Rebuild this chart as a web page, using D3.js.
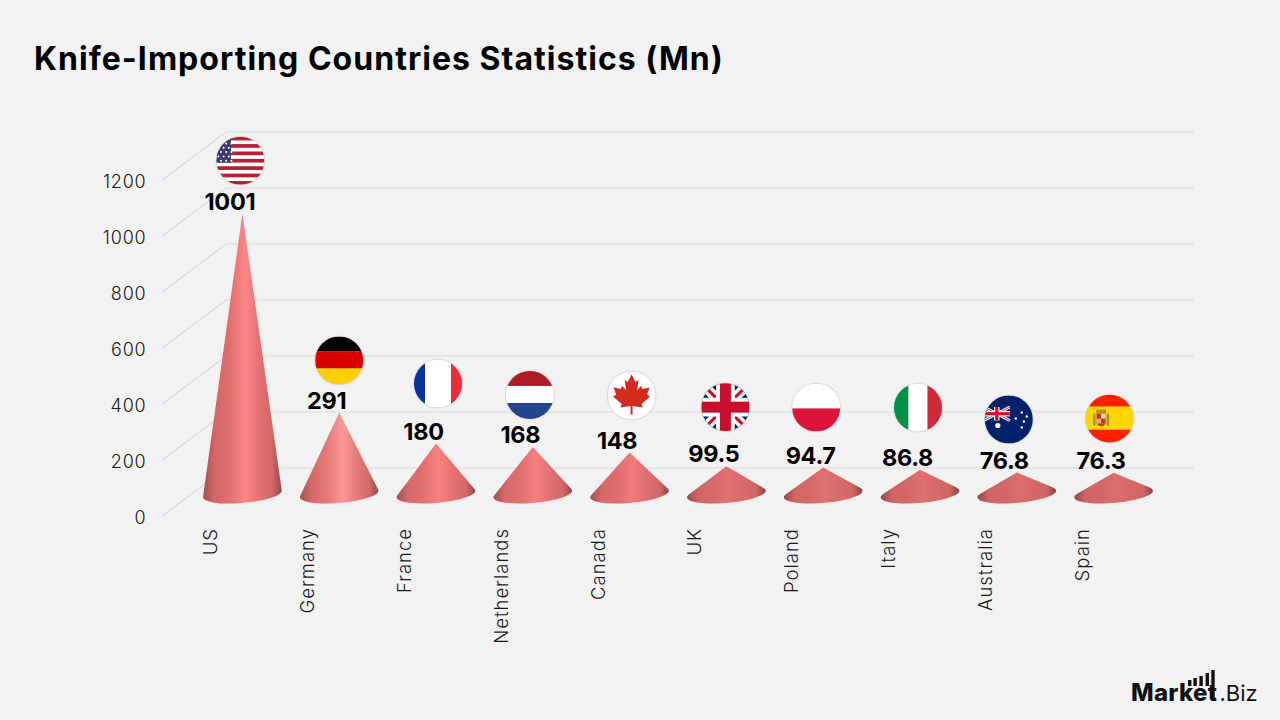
<!DOCTYPE html>
<html>
<head>
<meta charset="utf-8">
<title>Knife-Importing Countries Statistics</title>
<script src="https://cdn.jsdelivr.net/npm/d3@7/dist/d3.min.js"></script>
<style>
  html, body { margin: 0; padding: 0; background: #f2f2f2; }
  svg { display: block; font-family: Inter, "Open Sans", sans-serif; }
</style>
</head>
<body>
<div id="chart"></div>
<script>
// Chart data
const countries = ["US", "Germany", "France", "Netherlands", "Canada", "UK", "Poland", "Italy", "Australia", "Spain"];
const importValues = [1001, 291, 180, 168, 148, 99.5, 94.7, 86.8, 76.8, 76.3];
const yTicks = [0, 200, 400, 600, 800, 1000, 1200];
const chartTitle = "Knife-Importing Countries Statistics (Mn)";

// Hand-tuned placement of each flag badge relative to its cone tip
const flagLift = [53, 52, 60, 52, 57, 59, 60, 62, 53, 54];
const flagShift = [-2, 0, 2, -3, 2, -1, -7, -2, -8, -4];

const width = 1280, height = 720;
const depth = { dx: 64, dy: -48 };
const frontLeft = 162, frontRight = 1130, frontZero = 516;
const floorOffset = 22;   // cones stand halfway into the box floor

const svg = d3.select("#chart").append("svg").attr("width", width).attr("height", height);
const defs = svg.append("defs");
svg.append("rect").attr("width", width).attr("height", height).attr("fill", "#f2f2f2");

const y = d3.scaleLinear().domain([0, 1200]).range([frontZero, frontZero - 336]);
const x = d3.scaleBand().domain(countries).range([frontLeft, frontRight]);
const coneX = c => x(c) + x.bandwidth() / 2 + depth.dx / 2;
const coneY = v => y(v) - floorOffset;

svg.append("text").attr("x", 34).attr("y", 70)
  .attr("font-size", 32).attr("font-weight", 700).attr("fill", "#000")
  .attr("letter-spacing", 1.03)
  .text(chartTitle);

// Wall gridlines and the receding floor ticks
const grid = svg.append("g").attr("fill", "none").attr("stroke", "#dadada").attr("stroke-width", 1.2);
yTicks.forEach(t => {
  grid.append("path").attr("d", d3.line()([
    [frontLeft, y(t)],
    [frontLeft + depth.dx, y(t) + depth.dy],
    [frontRight + depth.dx, y(t) + depth.dy]
  ]));
});

svg.append("g").selectAll("text").data(yTicks).join("text")
  .attr("x", 146.5).attr("y", d => y(d) + 1.2).attr("dy", "0.35em")
  .attr("text-anchor", "end").attr("font-size", 18).attr("font-weight", 300)
  .attr("letter-spacing", 0.8).attr("fill", "#1a1a1a")
  .text(d => d);

svg.append("g").selectAll("text").data(countries).join("text")
  .attr("transform", d => `translate(${coneX(d) - 25},528) rotate(-90)`)
  .attr("text-anchor", "end").attr("font-size", 18.5).attr("font-weight", 300)
  .attr("letter-spacing", 1).attr("fill", "#1a1a1a")
  .text(d => d);

// Cones: a tilted elliptical base joined to the tip along its tangent lines
const baseRx = 39.5, baseRy = 9, tilt = -5 * Math.PI / 180;
const glow = d3.scaleLinear().domain([21, 50, 81, 280])
  .range(["#dc6d6d", "#fb8080", "#ff9a9a", "#ff8686"]).clamp(true);
const midTone = d3.scaleLinear().domain([21, 50, 280])
  .range(["#cf6565", "#d66969", "#d26666"]).clamp(true);
const rim = d3.scaleLinear().domain([21, 50, 280])
  .range(["#8f4848", "#a05050", "#a04f4f"]).clamp(true);

function conePath(cx, cy, tipY) {
  const cos = Math.cos(tilt), sin = Math.sin(tilt);
  const dy = tipY - cy;
  const ux = (sin * dy) / baseRx, uy = (cos * dy) / baseRy;
  const len = Math.hypot(ux, uy);
  const base = Math.atan2(uy, ux), spread = Math.acos(1 / len);
  const pt = a => {
    const ex = baseRx * Math.cos(a), ey = baseRy * Math.sin(a);
    return [cx + ex * cos - ey * sin, cy + ex * sin + ey * cos];
  };
  const right = pt(base + spread), left = pt(base - spread);
  const deg = tilt * 180 / Math.PI;
  return `M${cx},${tipY}L${right[0]},${right[1]}` +
    `A${baseRx},${baseRy} ${deg} 1 1 ${left[0]},${left[1]}Z`;
}

const cones = svg.append("g");
countries.forEach((c, i) => {
  const v = importValues[i];
  const h = coneY(0) - coneY(v);
  const id = "coneShade" + i;
  const g = defs.append("linearGradient").attr("id", id).attr("x1", 0).attr("x2", 1).attr("y1", 0).attr("y2", 0);
  const near = d3.interpolateRgb(midTone(h), glow(h))(0.35);
  [[0, rim(h)], [0.14, midTone(h)], [0.36, near], [0.54, glow(h)], [0.72, near], [0.88, midTone(h)],
   [1, d3.rgb(rim(h)).darker(0.25)]].forEach(s => {
    g.append("stop").attr("offset", s[0]).attr("stop-color", s[1]);
  });
  cones.append("path")
    .attr("d", conePath(coneX(c), coneY(0), coneY(v)))
    .attr("fill", `url(#${id})`);
});

svg.append("g").selectAll("text").data(countries).join("text")
  .attr("x", d => coneX(d) - 12.5)
  .attr("y", (d, i) => coneY(importValues[i]) - 12.2)
  .attr("dy", "0.36em")
  .attr("text-anchor", "middle").attr("font-size", 23.5).attr("font-weight", 700)
  .attr("letter-spacing", -0.3).attr("fill", "#000")
  .text((d, i) => importValues[i]);

// Flag badges
const shadow = defs.append("filter").attr("id", "badgeShadow")
  .attr("x", "-20%").attr("y", "-20%").attr("width", "140%").attr("height", "140%");
shadow.append("feDropShadow").attr("dx", 0).attr("dy", 0).attr("stdDeviation", 1.3)
  .attr("flood-color", "#666").attr("flood-opacity", 0.7);
defs.append("clipPath").attr("id", "badgeClip").append("circle").attr("r", 24);

const R = 24;
const rect = (g, x0, y0, w, h, fill) => g.append("rect").attr("x", x0).attr("y", y0).attr("width", w).attr("height", h).attr("fill", fill);
const hBands = (g, cuts, colors) => colors.forEach((c, i) => rect(g, -R, cuts[i], 2 * R, cuts[i + 1] - cuts[i], c));
const vBands = (g, cuts, colors) => colors.forEach((c, i) => rect(g, cuts[i], -R, cuts[i + 1] - cuts[i], 2 * R, c));
const star = (g, cx, cy, r) => g.append("circle").attr("cx", cx).attr("cy", cy).attr("r", r).attr("fill", "#fff");

function unionJack(g, x0, y0, w, h, bar) {
  rect(g, x0, y0, w, h, "#012169");
  const line = (a, b, c, d, col, sw) => g.append("line").attr("x1", a).attr("y1", b).attr("x2", c).attr("y2", d).attr("stroke", col).attr("stroke-width", sw);
  line(x0, y0, x0 + w, y0 + h, "#fff", bar * 0.9);
  line(x0 + w, y0, x0, y0 + h, "#fff", bar * 0.9);
  line(x0, y0, x0 + w, y0 + h, "#c8102e", bar * 0.28);
  line(x0 + w, y0, x0, y0 + h, "#c8102e", bar * 0.28);
  rect(g, x0 + w / 2 - bar * 0.85, y0, bar * 1.7, h, "#fff");
  rect(g, x0, y0 + h / 2 - bar * 0.85, w, bar * 1.7, "#fff");
  rect(g, x0 + w / 2 - bar / 2, y0, bar, h, "#c8102e");
  rect(g, x0, y0 + h / 2 - bar / 2, w, bar, "#c8102e");
}

const mapleHalf = [[0, -21], [4, -13.5], [7, -15.5], [5.5, -5.5], [9.5, -9.5], [11, -6.5], [18, -8], [15.5, -1], [18.5, 1], [10, 8.5], [11, 12], [1, 10.5], [1, 19]];
const maple = mapleHalf.concat(mapleHalf.slice(1).reverse().map(p => [-p[0], p[1]]));

const flagPainters = {
  US(g) {
    rect(g, -R, -R, 2 * R, 2 * R, "#fff");
    const sh = 48 / 13;
    d3.range(0, 13, 2).forEach(i => rect(g, -R, -R + i * sh, 2 * R, sh, "#b22234"));
    rect(g, -R, -R, 14.5, 7 * sh, "#3c3b6e");
    d3.range(6).forEach(r => d3.range(3).forEach(k =>
      star(g, -22 + k * 5.2 + (r % 2 ? 2.6 : 0), -21.5 + r * 4.3, 1)));
  },
  Germany(g) { hBands(g, [-R, -9, 8, R], ["#000", "#dd0000", "#ffce00"]); },
  France(g) { vBands(g, [-R, -13, 13, R], ["#0a2f9e", "#fff", "#ef2b3b"]); },
  Netherlands(g) { hBands(g, [-R, -9, 8, R], ["#ae1c28", "#fff", "#21468b"]); },
  Canada(g) {
    rect(g, -R, -R, 2 * R, 2 * R, "#fff");
    g.append("polygon").attr("points", maple.map(p => p.join(",")).join(" ")).attr("fill", "#d52b1e");
  },
  UK(g) { unionJack(g, -R, -R, 2 * R, 2 * R, 11); },
  Poland(g) { hBands(g, [-R, 1, R], ["#fff", "#dc143c"]); },
  Italy(g) { vBands(g, [-R, -9.5, 9.5, R], ["#009246", "#fff", "#ce2b37"]); },
  Australia(g) {
    rect(g, -R, -R, 2 * R, 2 * R, "#012169");
    unionJack(g, -25, -12.5, 26, 13.5, 3.2);
    star(g, -11, 6, 2.6);
    [[13, -7], [7, -1], [18, -3], [15, 2], [13, 8]].forEach(p => star(g, p[0], p[1], 1.2));
  },
  Spain(g) {
    hBands(g, [-R, -12, 11, R], ["#fe2000", "#ffd500", "#fe2000"]);
    const crest = g.append("g").attr("transform", "translate(-8.5,0)");
    rect(crest, -5, -9, 10, 4, "#b98a2e");
    rect(crest, -4.5, -5, 9, 10, "#c0392b");
    rect(crest, 0, -5, 4.5, 5, "#e8d9b0");
    rect(crest, -4.5, 0, 4.5, 5, "#d9b36a");
    crest.append("path").attr("d", "M-4.5,5Q0,10 4.5,5Z").attr("fill", "#b5402a");
    rect(crest, -8, -5, 2.4, 12, "#a98a55");
    rect(crest, 5.6, -5, 2.4, 12, "#a98a55");
  }
};

const badges = svg.append("g");
countries.forEach((c, i) => {
  const cx = coneX(c) + flagShift[i];
  const cy = coneY(importValues[i]) - flagLift[i];
  const b = badges.append("g").attr("transform", `translate(${cx},${cy})`);
  b.append("circle").attr("r", R - 0.5).attr("fill", "#ccc").attr("filter", "url(#badgeShadow)");
  flagPainters[c](b.append("g").attr("clip-path", "url(#badgeClip)"));
});

// Publisher mark, lower right
const mark = svg.append("g").attr("fill", "#111");
mark.append("text").attr("x", 1131).attr("y", 701).attr("font-size", 24).attr("font-weight", 800)
  .attr("letter-spacing", 0.3).text("Market");
[[1188, 680, 686], [1193.4, 678, 686], [1199.4, 676, 686], [1205.6, 673, 686], [1211.3, 670, 701]]
  .forEach(b => mark.append("rect").attr("x", b[0]).attr("y", b[1]).attr("width", 3.4).attr("height", b[2] - b[1]));
mark.append("text").attr("x", 1219.5).attr("y", 701).attr("font-size", 22).attr("font-weight", 400)
  .text(".Biz");
</script>
</body>
</html>
